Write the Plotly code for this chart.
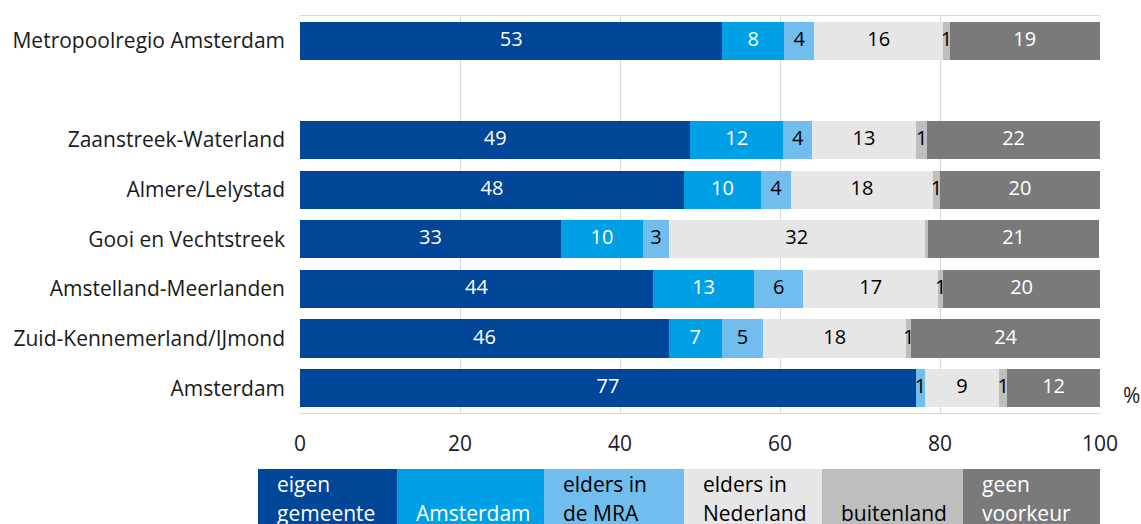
import plotly.graph_objects as go

# ---- data (top to bottom) ----
regions = ["Metropoolregio Amsterdam", " ", "Zaanstreek-Waterland", "Almere/Lelystad",
           "Gooi en Vechtstreek", "Amstelland-Meerlanden", "Zuid-Kennemerland/IJmond", "Amsterdam"]
series_names = ["eigen gemeente", "Amsterdam", "elders in de MRA", "elders in Nederland",
                "buitenland", "geen voorkeur"]
eigen_gemeente = [52.8, None, 48.8, 48.0, 32.6, 44.1, 46.1, 77.0]
amsterdam = [7.7, None, 11.6, 9.6, 10.3, 12.7, 6.6, 0.0]
elders_mra = [3.8, None, 3.6, 3.8, 3.2, 6.1, 5.2, 1.1]
elders_nederland = [16.1, None, 13.0, 17.7, 32.0, 16.9, 17.9, 9.3]
buitenland = [0.8, None, 1.4, 0.9, 0.4, 0.6, 0.6, 1.0]
geen_voorkeur = [18.8, None, 21.6, 20.0, 21.4, 19.6, 23.6, 11.6]
legend_lines = [("eigen", "gemeente"), ("", "Amsterdam"), ("elders in", "de MRA"),
                ("elders in", "Nederland"), ("", "buitenland"), ("geen", "voorkeur")]
x_ticks = [0, 20, 40, 60, 80, 100]

values = [eigen_gemeente, amsterdam, elders_mra, elders_nederland, buitenland, geen_voorkeur]
colors = ["#004699", "#00A0E6", "#71BDEE", "#E6E6E6", "#BEBEBE", "#7A7A7A"]
text_colors = ["white", "white", "black", "black", "black", "white"]

FONT = "Open Sans"
TXT = "#1a1a1a"
fig = go.Figure()

cum = [0.0] * len(regions)
for name, vals, col, tcol in zip(series_names, values, colors, text_colors):
    fig.add_trace(go.Bar(
        y=regions, x=vals, orientation="h", name=name,
        marker=dict(color=col, line=dict(width=0)), showlegend=False,
        hoverinfo="x+name"))
    mids, txt, ys = [], [], []
    for i, v in enumerate(vals):
        if v is None:
            continue
        if v >= 0.55:
            mids.append(cum[i] + v / 2)
            txt.append(str(round(v)))
            ys.append(regions[i])
        cum[i] += v
    fig.add_trace(go.Scatter(
        x=mids, y=ys, mode="text", text=txt, showlegend=False, hoverinfo="skip",
        textfont=dict(color=tcol, size=20, family=FONT), cliponaxis=False))

fig.update_layout(
    width=1141, height=524,
    margin=dict(l=300, r=41, t=16, b=111, autoexpand=False),
    barmode="stack", bargap=0.23,
    plot_bgcolor="white", paper_bgcolor="white",
    font=dict(family=FONT, size=21, color=TXT),
    xaxis=dict(range=[0, 100], tickvals=x_ticks, showgrid=True, gridcolor="#D9D9D9",
               gridwidth=1, zeroline=False, showline=True, linecolor="#D9D9D9",
               mirror=True, ticks="", ticklabelstandoff=12, automargin=False,
               tickfont=dict(size=21, family=FONT, color=TXT)),
    yaxis=dict(categoryorder="array", categoryarray=regions, autorange="reversed",
               showgrid=False, zeroline=False, showline=False, ticks="",
               ticklabelstandoff=14, automargin=False,
               tickfont=dict(size=21, family=FONT, color=TXT)),
)

# "%" unit label
fig.add_annotation(x=1.039, y=0.045, xref="paper", yref="paper", text="%",
                   showarrow=False, xanchor="center", yanchor="middle",
                   font=dict(size=21, family=FONT, color=TXT))

# custom legend blocks at bottom (box edges in pixels of the 800px plot width)
PLOT_L, PLOT_W = 300, 800
box_edges_px = [258, 397, 544, 684, 822, 963, 1100]
box_edges = [(p - PLOT_L) / PLOT_W for p in box_edges_px]
pad = 17 / PLOT_W
for i, ((l1, l2), col, tcol) in enumerate(zip(legend_lines, colors, text_colors)):
    x0, x1 = box_edges[i], box_edges[i + 1]
    fig.add_shape(type="rect", xref="paper", yref="paper", x0=x0, x1=x1,
                  y0=-0.32, y1=-0.141, fillcolor=col, line=dict(width=0), layer="above")
    for line, yp in ((l1, -0.179), (l2, -0.252)):
        if line:
            fig.add_annotation(x=x0 + pad, y=yp, xref="paper", yref="paper", text=line,
                               showarrow=False, xanchor="left", yanchor="middle",
                               font=dict(size=21, family=FONT, color=tcol))

fig.write_html(
    "out.html",
    config={"displayModeBar": False},
    post_script="document.body.style.margin='0';document.body.style.overflow='hidden';",
)
